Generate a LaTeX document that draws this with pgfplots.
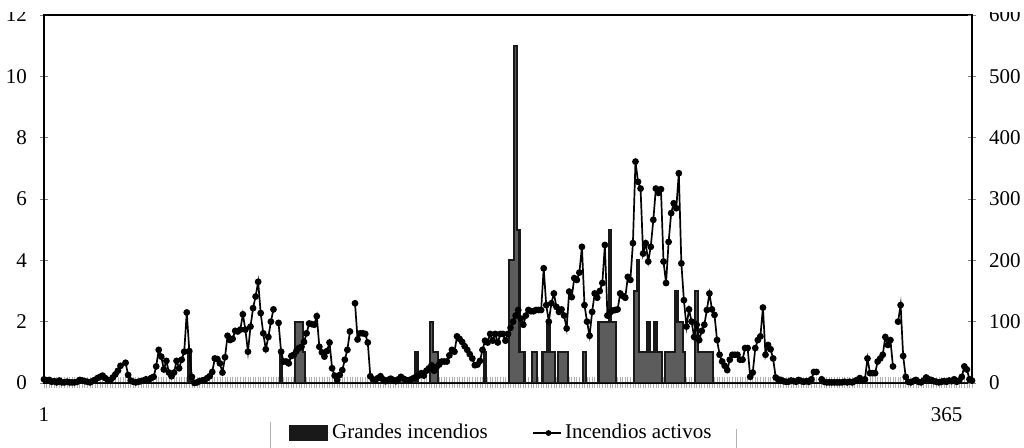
\documentclass[border=0pt]{standalone}
\usepackage{fontspec}
\setmainfont{Liberation Serif}
\usepackage{pgfplots}
\usepackage{pgfplotstable}
\pgfplotsset{compat=1.18}
\definecolor{barg}{RGB}{92,92,92}

% d = day, g = grandes incendios (left axis), a = incendios activos (right axis)
\pgfplotstableread[row sep=\\]{
d g a\\
1 0 6\\ 2 0 4\\ 3 0 5\\ 4 0 2\\ 5 0 3\\
6 0 1\\ 7 0 4\\ 8 0 1\\ 9 0 1\\ 10 0 2\\
11 0 1\\ 12 0 1\\ 13 0 1\\ 14 0 2\\ 15 0 5\\
16 0 4\\ 17 0 3\\ 18 0 2\\ 19 0 1\\ 20 0 3\\
21 0 5\\ 22 0 8\\ 23 0 10\\ 24 0 12\\ 25 0 8\\
26 0 5\\ 27 0 4\\ 28 0 9\\ 29 0 14\\ 30 0 20\\
31 0 28\\ 32 0 nan\\ 33 0 33\\ 34 0 13\\ 35 0 4\\
36 0 2\\ 37 0 1\\ 38 0 2\\ 39 0 3\\ 40 0 4\\
41 0 6\\ 42 0 5\\ 43 0 8\\ 44 0 10\\ 45 0 27\\
46 0 54\\ 47 0 43\\ 48 0 22\\ 49 0 36\\ 50 0 17\\
51 0 11\\ 52 0 17\\ 53 0 36\\ 54 0 24\\ 55 0 38\\
56 0 51\\ 57 0 115\\ 58 1 52\\ 59 0 10\\ 60 0 0\\
61 0 1\\ 62 0 3\\ 63 0 4\\ 64 0 5\\ 65 0 8\\
66 0 11\\ 67 0 18\\ 68 0 40\\ 69 0 39\\ 70 0 32\\
71 0 17\\ 72 0 42\\ 73 0 77\\ 74 0 70\\ 75 0 72\\
76 0 85\\ 77 0 84\\ 78 0 87\\ 79 0 112\\ 80 0 87\\
81 0 51\\ 82 0 92\\ 83 0 122\\ 84 0 141\\ 85 0 165\\
86 0 114\\ 87 0 81\\ 88 0 55\\ 89 0 75\\ 90 0 100\\
91 0 120\\ 92 0 nan\\ 93 0 98\\ 94 1 51\\ 95 0 35\\
96 0 35\\ 97 0 32\\ 98 0 44\\ 99 0 46\\ 100 2 52\\
101 2 57\\ 102 2 59\\ 103 1 67\\ 104 0 81\\ 105 0 97\\
106 0 96\\ 107 0 95\\ 108 0 109\\ 109 0 59\\ 110 0 50\\
111 0 43\\ 112 0 52\\ 113 0 66\\ 114 0 24\\ 115 0 12\\
116 0 5\\ 117 0 13\\ 118 0 21\\ 119 0 38\\ 120 0 54\\
121 0 84\\ 122 0 nan\\ 123 0 130\\ 124 0 71\\ 125 0 81\\
126 0 81\\ 127 0 80\\ 128 0 66\\ 129 0 11\\ 130 0 6\\
131 0 5\\ 132 0 8\\ 133 0 11\\ 134 0 6\\ 135 0 3\\
136 0 5\\ 137 0 7\\ 138 0 5\\ 139 0 3\\ 140 0 6\\
141 0 10\\ 142 0 7\\ 143 0 5\\ 144 0 4\\ 145 0 6\\
146 0 8\\ 147 1 10\\ 148 0 12\\ 149 0 16\\ 150 0 12\\
151 0 20\\ 152 0 24\\ 153 2 29\\ 154 1 20\\ 155 1 26\\
156 0 30\\ 157 0 35\\ 158 0 35\\ 159 0 35\\ 160 0 45\\
161 0 54\\ 162 0 51\\ 163 0 76\\ 164 0 72\\ 165 0 67\\
166 0 60\\ 167 0 54\\ 168 0 47\\ 169 0 40\\ 170 0 29\\
171 0 30\\ 172 0 36\\ 173 0 54\\ 174 1 69\\ 175 0 66\\
176 0 80\\ 177 0 69\\ 178 0 80\\ 179 0 66\\ 180 0 80\\
181 0 80\\ 182 0 69\\ 183 0 80\\ 184 4 90\\ 185 4 100\\
186 11 110\\ 187 5 119\\ 188 1 105\\ 189 1 95\\ 190 0 110\\
191 0 119\\ 192 0 117\\ 193 1 117\\ 194 1 119\\ 195 0 119\\
196 0 119\\ 197 1 187\\ 198 1 127\\ 199 2 100\\ 200 1 130\\
201 1 146\\ 202 0 124\\ 203 1 116\\ 204 1 120\\ 205 1 110\\
206 1 89\\ 207 0 149\\ 208 0 140\\ 209 0 171\\ 210 0 168\\
211 0 180\\ 212 0 222\\ 213 1 127\\ 214 0 100\\ 215 0 77\\
216 0 116\\ 217 0 146\\ 218 0 139\\ 219 2 150\\ 220 2 163\\
221 2 225\\ 222 2 110\\ 223 5 115\\ 224 2 118\\ 225 2 119\\
226 0 120\\ 227 0 146\\ 228 0 142\\ 229 0 139\\ 230 0 173\\
231 0 168\\ 232 0 228\\ 233 3 361\\ 234 4 328\\ 235 1 317\\
236 1 211\\ 237 1 228\\ 238 2 198\\ 239 1 222\\ 240 1 266\\
241 2 317\\ 242 1 310\\ 243 1 316\\ 244 0 198\\ 245 1 163\\
246 1 230\\ 247 1 277\\ 248 1 293\\ 249 3 285\\ 250 2 342\\
251 2 195\\ 252 1 135\\ 253 0 92\\ 254 0 120\\ 255 0 100\\
256 0 75\\ 257 3 95\\ 258 1 70\\ 259 1 85\\ 260 1 95\\
261 1 119\\ 262 1 146\\ 263 1 120\\ 264 0 111\\ 265 0 70\\
266 0 46\\ 267 0 35\\ 268 0 28\\ 269 0 21\\ 270 0 38\\
271 0 46\\ 272 0 46\\ 273 0 46\\ 274 0 38\\ 275 0 38\\
276 0 57\\ 277 0 57\\ 278 0 10\\ 279 0 17\\ 280 0 57\\
281 0 70\\ 282 0 76\\ 283 0 123\\ 284 0 46\\ 285 0 62\\
286 0 55\\ 287 0 40\\ 288 0 9\\ 289 0 6\\ 290 0 5\\
291 0 3\\ 292 0 2\\ 293 0 2\\ 294 0 4\\ 295 0 3\\
296 0 2\\ 297 0 5\\ 298 0 3\\ 299 0 2\\ 300 0 3\\
301 0 2\\ 302 0 6\\ 303 0 18\\ 304 0 18\\ 305 0 nan\\
306 0 6\\ 307 0 2\\ 308 0 1\\ 309 0 1\\ 310 0 1\\
311 0 1\\ 312 0 1\\ 313 0 1\\ 314 0 1\\ 315 0 2\\
316 0 1\\ 317 0 2\\ 318 0 1\\ 319 0 3\\ 320 0 5\\
321 0 8\\ 322 0 4\\ 323 0 6\\ 324 0 40\\ 325 0 16\\
326 0 16\\ 327 0 16\\ 328 0 35\\ 329 0 40\\ 330 0 46\\
331 0 75\\ 332 0 62\\ 333 0 70\\ 334 0 27\\ 335 0 nan\\
336 0 100\\ 337 0 127\\ 338 0 44\\ 339 0 10\\ 340 0 2\\
341 0 1\\ 342 0 3\\ 343 0 5\\ 344 0 2\\ 345 0 1\\
346 0 4\\ 347 0 9\\ 348 0 6\\ 349 0 5\\ 350 0 3\\
351 0 2\\ 352 0 1\\ 353 0 2\\ 354 0 3\\ 355 0 2\\
356 0 4\\ 357 0 3\\ 358 0 6\\ 359 0 2\\ 360 0 4\\
361 0 10\\ 362 0 27\\ 363 0 22\\ 364 0 6\\ 365 0 4\\
}\data

\begin{document}
\begin{tikzpicture}[font=\fontsize{10.5}{12}\selectfont]
\pgfplotsset{
  base/.style={
    scale only axis, width=464pt, height=184pt,
    xmin=1, xmax=365,
    tick align=center,
    axis line style={line width=0.6pt, black},
    /pgf/number format/assume math mode=true,
  }
}
\begin{axis}[base,
  ymin=0, ymax=12, ytick={0,2,...,12}, ytick pos=left,
  xtick={1,355}, xticklabels={1,365}, xtick pos=bottom,
  minor xtick={1,2,...,365},
  major tick length=4pt, minor tick length=5.5pt,
  minor x tick style={gray!60, line width=0.35pt},
  major x tick style={draw=none},
  xticklabel style={yshift=-7pt},
  yticklabel style={xshift=-3pt},
]
\addplot[const plot mark mid, fill=barg, draw=black!90, line width=1.1pt]
  table[x=d, y=g]{\data} \closedcycle;
\end{axis}
\begin{axis}[base,
  ymin=0, ymax=600, ytick={0,100,...,600},
  axis y line*=right, axis x line=none,
  major tick length=4pt,
  yticklabel style={xshift=3pt},
  unbounded coords=jump,
  legend columns=2,
  legend cell align=left,
  legend style={at={(0.494,-0.136)}, anchor=center, draw=none, fill=none,
    inner sep=0pt, /tikz/every even column/.append style={column sep=20pt}},
]
\addlegendimage{legend image code/.code={\fill[black!90] (2pt,-3.6pt) rectangle (21pt,3.6pt);}}
\addlegendentry{Grandes incendios}
\addplot[black, line width=0.85pt, mark=*, mark size=1.25pt,
  legend image code/.code={\draw[black,line width=0.6pt] (0pt,0pt) -- (14pt,0pt); \fill[black] (8pt,0pt) circle (1pt);}]
  table[x=d, y=a]{\data};
\addlegendentry{Incendios activos}
\end{axis}
\draw[gray!60, line width=0.5pt] (113pt,-34pt) -- (113pt,-19.5pt);
\draw[gray!60, line width=0.5pt] (346pt,-34pt) -- (346pt,-23pt);
\fill[white] (-22pt,185.6pt) rectangle (490pt,192pt);
\pgfresetboundingbox
\path[use as bounding box] (-22pt,-32.5pt) rectangle (490pt,191.5pt);
\end{tikzpicture}
\end{document}
